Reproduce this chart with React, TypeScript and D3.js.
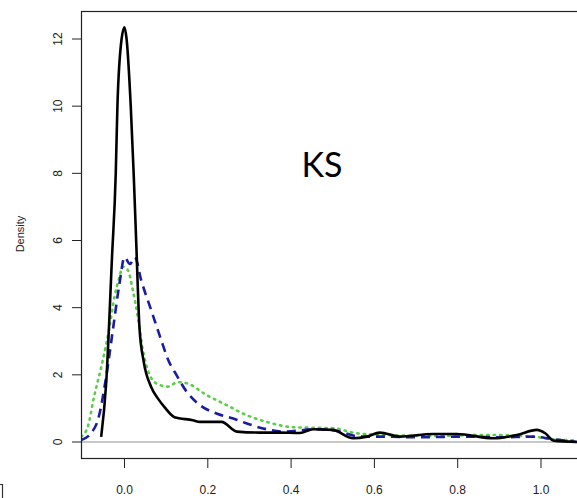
import React from "react";
import * as d3 from "d3";

const blackX = [-0.056,-0.044,-0.030,-0.021,-0.017,-0.007,0.0,0.005,0.015,0.022,0.028,0.036,0.046,0.064,0.08,0.096,0.12,0.164,0.181,0.233,0.27,0.325,0.373,0.421,0.453,0.5,0.549,0.582,0.613,0.661,0.741,0.798,0.886,0.942,0.99,1.01,1.03,1.086];
const blackY = [0.15,1.75,5.5,8.0,10.0,12.0,12.35,12.0,10.0,8.0,6.0,3.4,2.4,1.64,1.3,1.04,0.74,0.65,0.6,0.6,0.31,0.28,0.28,0.27,0.38,0.36,0.11,0.16,0.28,0.16,0.24,0.24,0.11,0.21,0.36,0.26,0.04,0.0];

const blueX = [-0.104,-0.08,-0.064,-0.044,-0.028,-0.012,0.0,0.013,0.025,0.04,0.064,0.088,0.105,0.125,0.149,0.181,0.221,0.261,0.301,0.341,0.381,0.461,0.517,0.565,0.621,0.7,0.82,0.9,0.98,1.03,1.086];
const blueY = [0.06,0.27,0.65,1.94,3.33,4.72,5.5,5.3,5.5,4.82,3.93,3.04,2.44,1.99,1.5,1.1,0.85,0.7,0.52,0.38,0.31,0.38,0.31,0.16,0.16,0.14,0.16,0.14,0.16,0.08,0.0];

const greenX = [-0.104,-0.088,-0.073,-0.052,-0.036,-0.024,-0.012,-0.004,0.008,0.02,0.032,0.044,0.056,0.076,0.104,0.128,0.149,0.197,0.245,0.293,0.341,0.405,0.501,0.557,0.621,0.741,0.861,0.98,1.03,1.086];
const greenY = [0.16,0.46,1.35,2.44,3.43,4.32,4.92,5.22,5.12,4.52,3.73,2.74,2.14,1.75,1.65,1.78,1.75,1.4,1.1,0.8,0.6,0.44,0.41,0.26,0.21,0.18,0.21,0.16,0.08,0.05];

const xTicks = [0.0, 0.2, 0.4, 0.6, 0.8, 1.0];
const yTicks = [0, 2, 4, 6, 8, 10, 12];
const yLabel = "Density";
const title = "KS";

const W = 577, H = 498;
const L = 81, R = 577, T = 11, B = 458;

export default function App() {
  const x = d3.scaleLinear().domain([0, 1]).range([124.5, 541]);
  const y = d3.scaleLinear().domain([0, 12]).range([442, 39]);
  const line = d3.line<[number, number]>().x(d => x(d[0])).y(d => y(d[1])).curve(d3.curveMonotoneX);
  const mk = (xs: number[], ys: number[]) => line(xs.map((v, i) => [v, ys[i]] as [number, number])) || "";
  const font = "'Liberation Sans', Arial, sans-serif";
  return (
    <svg width={W} height={H} style={{ position: "absolute", left: 0, top: 0, background: "#fff" }}>
      <defs>
        <clipPath id="clip"><rect x={L} y={T} width={R - L} height={B - T} /></clipPath>
      </defs>
      <line x1={L} x2={R} y1={y(0)} y2={y(0)} stroke="#c8c8c8" strokeWidth={2} />
      <g clipPath="url(#clip)">
        <path d={mk(greenX, greenY)} fill="none" stroke="#5ccc4a" strokeWidth={2.6} strokeDasharray="1.5,5" strokeLinecap="round" />
        <path d={mk(blueX, blueY)} fill="none" stroke="#1c1ca0" strokeWidth={2.6} strokeDasharray="9,6" />
        <path d={mk(blackX, blackY)} fill="none" stroke="#000" strokeWidth={2.6} strokeLinejoin="round" />
      </g>
      <rect x={L + 0.5} y={T + 0.5} width={R - L + 5} height={B - T} fill="none" stroke="#222" strokeWidth={1.2} />
      {xTicks.map(t => (
        <g key={t}>
          <line x1={x(t)} x2={x(t)} y1={B} y2={B + 10} stroke="#222" strokeWidth={1} />
          <text x={x(t)} y={490} textAnchor="middle" dominantBaseline="central" fontFamily={font} fontSize={12} fill="#222">{t.toFixed(1)}</text>
        </g>
      ))}
      {yTicks.map(t => (
        <g key={t}>
          <line x1={L - 9} x2={L} y1={y(t)} y2={y(t)} stroke="#222" strokeWidth={1} />
          <text transform={`translate(58,${y(t)}) rotate(-90)`} textAnchor="middle" dominantBaseline="central" fontFamily={font} fontSize={12} fill="#222">{t}</text>
        </g>
      ))}
      <text transform={`translate(20,234) rotate(-90)`} textAnchor="middle" dominantBaseline="central" fontFamily={font} fontSize={11} fill="#222">{yLabel}</text>
      <text x={322} y={163} textAnchor="middle" dominantBaseline="central" fontFamily="Lato, 'Open Sans', sans-serif" fontSize={34} fill="#000">{title}</text>
      <path d="M0,484.5 H2.5 V498" fill="none" stroke="#333" strokeWidth={1.2} />
    </svg>
  );
}
